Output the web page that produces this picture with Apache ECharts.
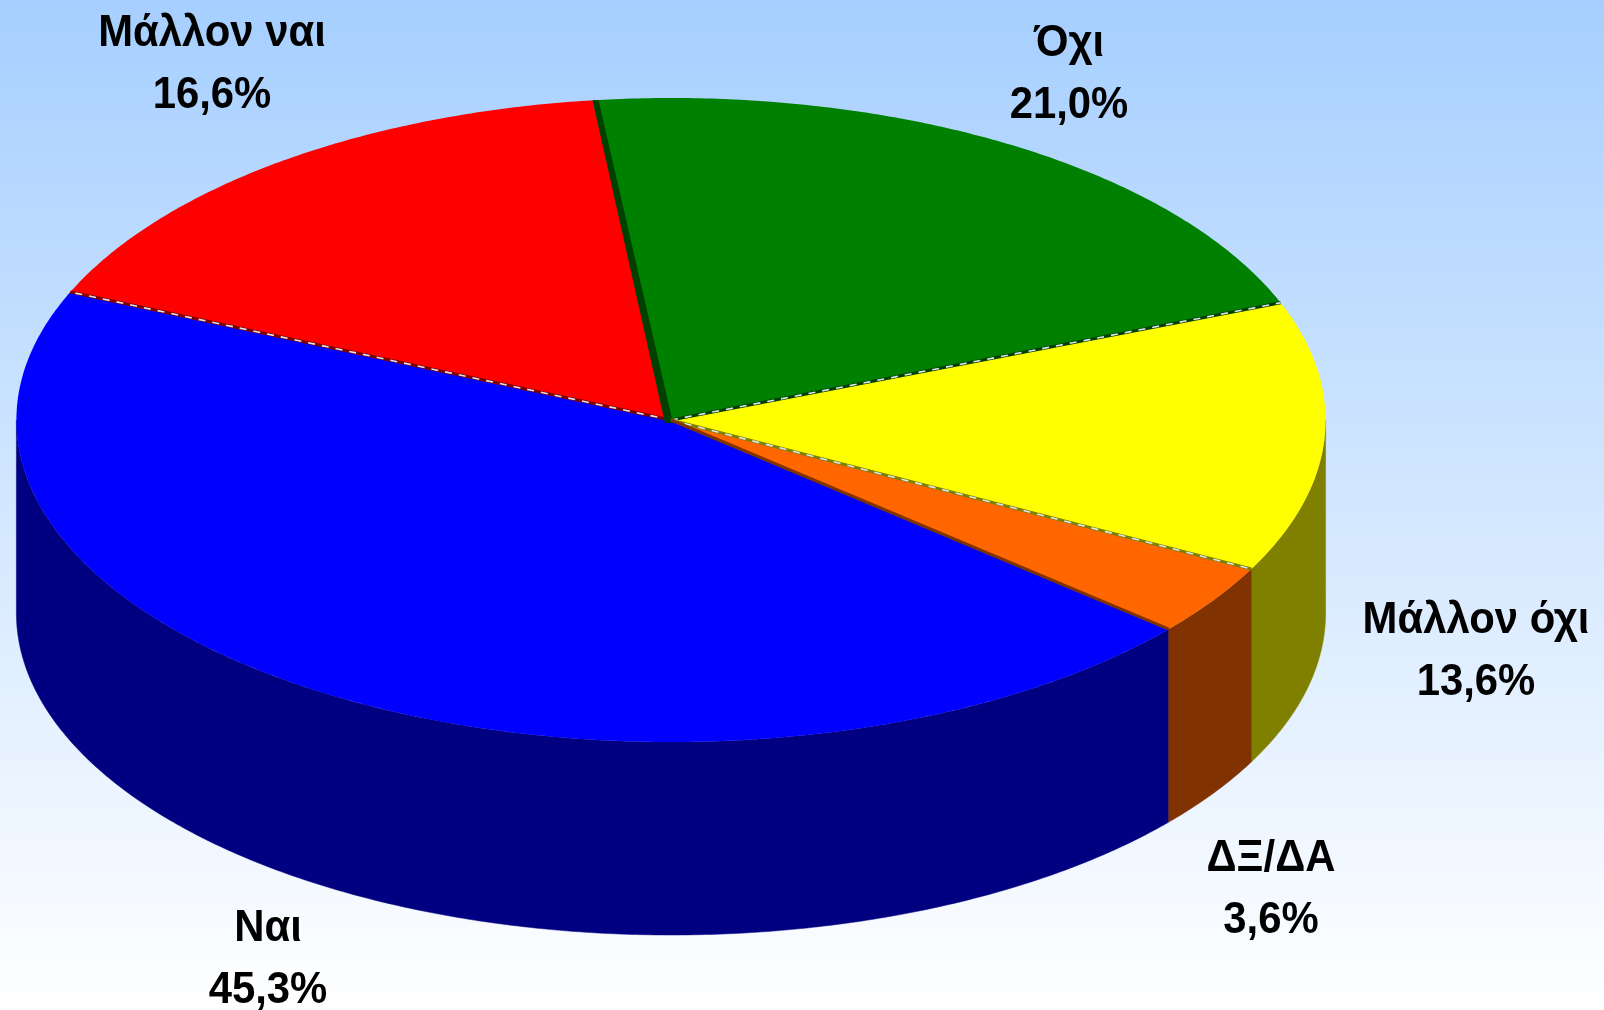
<!DOCTYPE html>
<html>
<head>
<meta charset="utf-8">
<style>html,body{margin:0;padding:0;background:#fff}#c{width:1604px;height:1010px}</style>
<script src="https://cdn.jsdelivr.net/npm/echarts@6/dist/echarts.min.js"></script>
</head>
<body>
<div id="c"></div>
<script>
// ---- data ----
const categories = ['Ναι', 'Μάλλον ναι', 'Όχι', 'Μάλλον όχι', 'ΔΞ/ΔΑ'];
const values = [45.3, 16.6, 21.0, 13.6, 3.6];

// ---- styles and layout ----
const topColors = ['#0000FF', '#FF0000', '#008000', '#FFFF00', '#FF6600'];
const wallColors = ['#000080', '#800000', '#004000', '#808000', '#803300'];
// colour of the seam at the end of each slice, and of the light dashes over it
const seamColors = ['#800000', '#004000', '#004000', '#808000', '#803300'];
const seamDashes = [true, false, true, true, false];
const labelCenters = [[268, 960], [212, 65], [1069, 75], [1476, 652], [1271, 890]];
const CX = 671, CY = 420, RX = 654.6, RY = 322, DEPTH = 193, START_DEG = 40.5;
const FONT_SIZE = 45, LINE_HEIGHT = 62;

const total = values.reduce((a, b) => a + b, 0);
const rad = d => d * Math.PI / 180;
function rim(deg, dy) {
  return [CX + RX * Math.cos(rad(deg)), CY + (dy || 0) + RY * Math.sin(rad(deg))];
}
function arcPoints(a, b, dy) {
  const out = [];
  const n = Math.max(2, Math.ceil((b - a) / 0.5));
  for (let i = 0; i <= n; i++) out.push(rim(a + (b - a) * i / n, dy));
  return out;
}
function sweep(idx) {
  let a = START_DEG;
  for (let i = 0; i < idx; i++) a += values[i] / total * 360;
  return [a, a + values[idx] / total * 360];
}
// parts of [a,b] lying on the front half of the ellipse (sin > 0)
function frontParts(a, b) {
  const parts = [];
  for (let k = -1; k <= 2; k++) {
    const lo = Math.max(a, k * 360), hi = Math.min(b, k * 360 + 180);
    if (hi > lo) parts.push([lo, hi]);
  }
  return parts;
}

function renderSlice(params, api) {
  const i = params.dataIndex;
  const [a, b] = sweep(i);
  const children = [];
  frontParts(a, b).forEach(([lo, hi]) => {
    const topArc = arcPoints(lo, hi, 0);
    const botArc = arcPoints(lo, hi, DEPTH).reverse();
    children.push({
      type: 'polygon',
      shape: { points: topArc.concat(botArc) },
      style: { fill: wallColors[i], stroke: wallColors[i], lineWidth: 0.5 }
    });
  });
  children.push({
    type: 'polygon',
    shape: { points: [[CX, CY]].concat(arcPoints(a, b, 0)) },
    style: { fill: topColors[i] }
  });
  return { type: 'group', children };
}

function renderSeam(params, api) {
  const i = params.dataIndex;
  const end = sweep(i)[1];
  const p = rim(end, 0);
  const children = [];
  if (categories[i] === 'Μάλλον ναι') {
    // the inner wall of the slice that follows shows as a dark band
    children.push({
      type: 'polygon',
      shape: { points: [[CX - 6, CY + 3], [p[0], p[1]], [p[0] + 6, p[1]], [CX + 2, CY + 3]] },
      style: { fill: seamColors[i] }
    });
  } else {
    children.push({
      type: 'line',
      shape: { x1: CX, y1: CY, x2: p[0], y2: p[1] },
      style: { stroke: seamColors[i], lineWidth: 3 }
    });
    if (seamDashes[i]) {
      children.push({
        type: 'line',
        shape: { x1: CX, y1: CY, x2: p[0], y2: p[1] },
        style: { stroke: '#DDE4EE', lineWidth: 1.6, lineDash: [7, 7] }
      });
    }
  }
  return { type: 'group', children };
}

function renderLabel(params, api) {
  const i = params.dataIndex;
  const c = labelCenters[i];
  return {
    type: 'text',
    x: c[0], y: c[1],
    scaleX: 0.93,
    style: {
      text: categories[i] + '\n' + api.value(0).toFixed(1).replace('.', ',') + '%',
      x: 0, y: 0,
      align: 'center', verticalAlign: 'middle',
      font: 'bold ' + FONT_SIZE + 'px "Liberation Sans", Arial, sans-serif',
      lineHeight: LINE_HEIGHT,
      fill: '#000000'
    }
  };
}

const chart = echarts.init(document.getElementById('c'), null, { renderer: 'canvas' });
const rows = categories.map((name, i) => ({ name, value: [values[i]] }));
chart.setOption({
  animation: false,
  backgroundColor: new echarts.graphic.LinearGradient(0, 0, 0, 1, [
    { offset: 0, color: '#A6CFFF' },
    { offset: 1, color: '#FFFFFF' }
  ]),
  tooltip: { show: false },
  series: [
    { type: 'custom', coordinateSystem: 'none', data: rows, renderItem: renderSlice, z: 1, silent: true },
    { type: 'custom', coordinateSystem: 'none', data: rows, renderItem: renderSeam, z: 2, silent: true },
    { type: 'custom', coordinateSystem: 'none', data: rows, renderItem: renderLabel, z: 3, silent: true }
  ]
});
</script>
</body>
</html>
